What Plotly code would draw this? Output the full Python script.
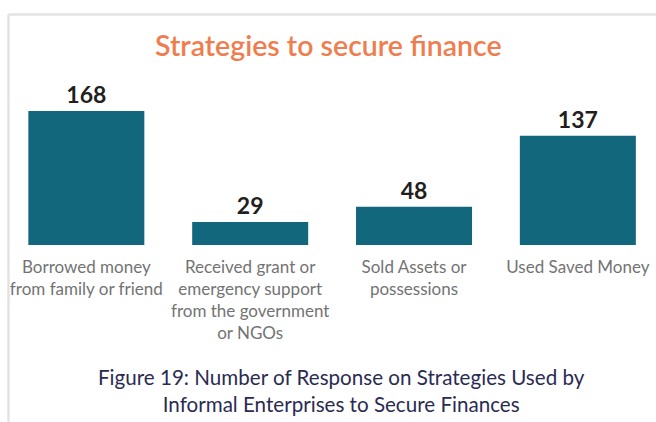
import plotly.graph_objects as go

# Survey responses: strategies used by informal enterprises to secure finance
categories = [
    "Borrowed money from family or friend",
    "Received grant or emergency support from the government or NGOs",
    "Sold Assets or possessions",
    "Used Saved Money",
]
tick_labels = [
    "Borrowed money<br>from family or friend",
    "Received grant or<br>emergency support<br>from the government<br>or NGOs",
    "Sold Assets or<br>possessions",
    "Used Saved Money",
]
responses = [168, 29, 48, 137]

W, H = 656, 422
M_T, M_B = 80, 177
PLOT_H = H - M_T - M_B


def py(pixel_y):
    """Convert a pixel row to paper y (plot area spans rows M_T..H-M_B)."""
    return (H - M_B - pixel_y) / PLOT_H


def px(pixel_x):
    return pixel_x / W


BAR = "#12677d"
ORANGE = "#ef7d4e"
NAVY = "#2b2b52"
GREY = "#737373"

fig = go.Figure(
    go.Bar(
        x=categories,
        y=responses,
        width=0.708,
        marker=dict(color=BAR, line=dict(width=0)),
        text=[str(v) for v in responses],
        textposition="outside",
        textfont=dict(family="Lato", size=23, color="#231f20", weight="bold"),
        cliponaxis=False,
    )
)

fig.update_layout(
    width=W,
    height=H,
    margin=dict(l=0, r=0, t=M_T, b=M_B, pad=0),
    paper_bgcolor="white",
    plot_bgcolor="white",
    showlegend=False,
    xaxis=dict(
        range=[-0.527, 3.477],
        tickvals=categories,
        ticktext=tick_labels,
        tickfont=dict(family="Lato", size=17, color=GREY),
        showgrid=False,
        showline=False,
        zeroline=False,
        ticks="",
        ticklabelstandoff=10,
        fixedrange=True,
    ),
    yaxis=dict(
        range=[0, 207],
        visible=False,
        fixedrange=True,
    ),
    shapes=[
        # frame: top rule and left rule
        dict(type="line", xref="paper", yref="paper",
             x0=px(8.5), x1=px(W + 5), y0=py(14.5), y1=py(14.5),
             line=dict(color="#e3e3e3", width=2.5)),
        dict(type="line", xref="paper", yref="paper",
             x0=px(8.5), x1=px(8.5), y0=py(14.5), y1=py(H + 5),
             line=dict(color="#e3e3e3", width=2.5)),
    ],
    annotations=[
        dict(text="Strategies to secure finance", xref="paper", yref="paper",
             x=px(329), y=py(45), xanchor="center", yanchor="middle",
             showarrow=False,
             font=dict(family="Lato", size=28.5, color=ORANGE, weight=600)),
        dict(text="Figure 19: Number of Response on Strategies Used by<br>"
                  "Informal Enterprises to Secure Finances",
             xref="paper", yref="paper",
             x=px(341), y=py(390), xanchor="center", yanchor="middle",
             showarrow=False, align="center",
             font=dict(family="Lato", size=20.6, color=NAVY)),
    ],
)

fig.write_html("out.html")
